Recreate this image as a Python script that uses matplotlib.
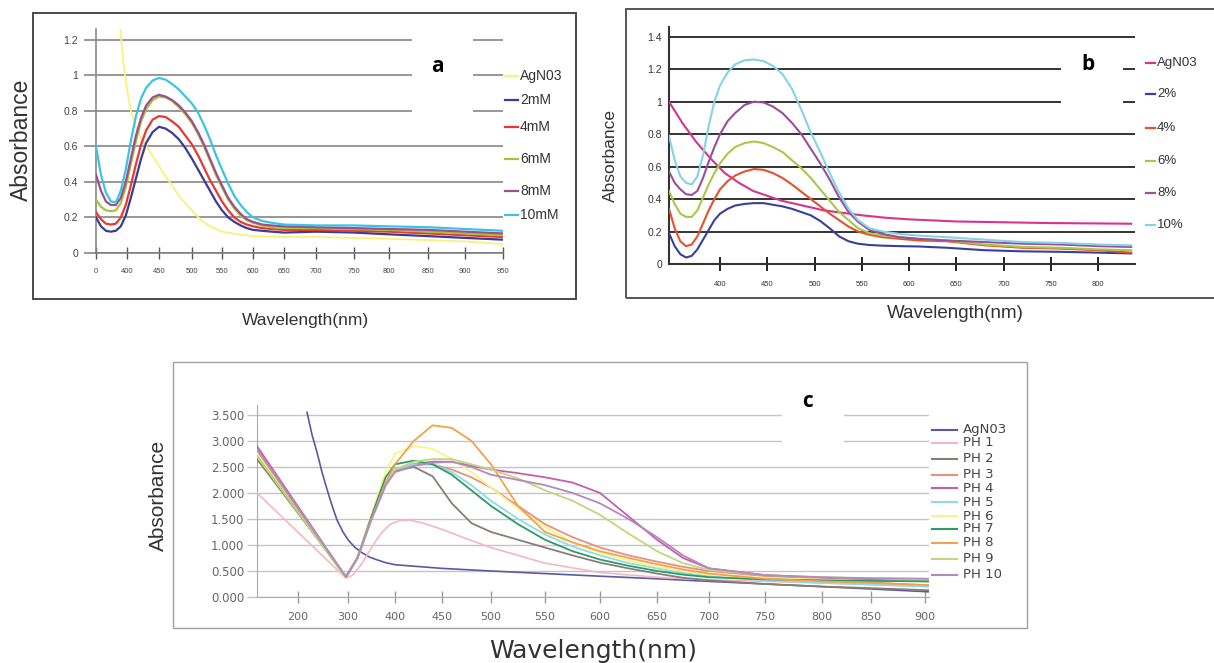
import matplotlib
matplotlib.use("Agg")
import matplotlib.pyplot as plt
import numpy as np
from matplotlib.lines import Line2D
from matplotlib.patches import Rectangle

plt.rcParams['font.family'] = ['Liberation Sans', 'DejaVu Sans']

# ---------------- data: panel a (AgNO3 concentration) ----------------
a_labels = ['AgN03', '2mM', '4mM', '6mM', '8mM', '10mM']
a_colors = ['#f7f27c', '#3b3c96', '#e63a30', '#a8c43c', '#9b4f8e', '#3cc3e2']

a_agno3_wl = [389, 392, 395, 400, 406, 414, 422, 432, 441, 450, 458, 466, 475,
              485, 495, 505, 515, 530, 550, 575, 600, 650, 700, 800, 900, 950]
a_agno3 = [1.27, 1.15, 1.05, 0.92, 0.80, 0.71, 0.65, 0.59, 0.54, 0.49, 0.44,
           0.40, 0.35, 0.30, 0.26, 0.22, 0.185, 0.15, 0.12, 0.105, 0.095, 0.09,
           0.09, 0.08, 0.065, 0.05]

a_wl = [350, 358, 366, 374, 382, 390, 398, 406, 414, 422, 430, 440, 450, 460,
        470, 480, 490, 500, 510, 520, 530, 540, 550, 560, 570, 580, 590, 600,
        615, 630, 650, 700, 750, 800, 850, 900, 950]
a_2mm = [0.20, 0.15, 0.125, 0.12, 0.125, 0.15, 0.21, 0.31, 0.42, 0.53, 0.62,
         0.68, 0.71, 0.70, 0.675, 0.64, 0.59, 0.53, 0.47, 0.41, 0.35, 0.29,
         0.24, 0.20, 0.175, 0.155, 0.14, 0.13, 0.125, 0.12, 0.115, 0.12, 0.115,
         0.105, 0.095, 0.085, 0.075]
a_4mm = [0.23, 0.19, 0.165, 0.16, 0.165, 0.20, 0.27, 0.38, 0.50, 0.61, 0.69,
         0.75, 0.77, 0.765, 0.74, 0.71, 0.66, 0.61, 0.55, 0.48, 0.41, 0.35,
         0.29, 0.24, 0.20, 0.175, 0.16, 0.15, 0.14, 0.135, 0.13, 0.13, 0.125,
         0.12, 0.11, 0.10, 0.09]
a_6mm = [0.30, 0.26, 0.24, 0.235, 0.24, 0.28, 0.37, 0.50, 0.63, 0.74, 0.81,
         0.86, 0.88, 0.875, 0.855, 0.82, 0.78, 0.73, 0.67, 0.60, 0.52, 0.44,
         0.37, 0.30, 0.25, 0.21, 0.185, 0.17, 0.155, 0.145, 0.14, 0.14, 0.135,
         0.13, 0.12, 0.11, 0.10]
a_8mm = [0.44, 0.35, 0.29, 0.27, 0.27, 0.31, 0.40, 0.53, 0.66, 0.76, 0.83,
         0.875, 0.89, 0.88, 0.86, 0.83, 0.79, 0.74, 0.68, 0.61, 0.53, 0.45,
         0.38, 0.31, 0.26, 0.22, 0.19, 0.175, 0.16, 0.155, 0.15, 0.145, 0.14,
         0.135, 0.13, 0.12, 0.11]
a_10mm = [0.60, 0.44, 0.34, 0.29, 0.285, 0.35, 0.47, 0.63, 0.77, 0.87, 0.93,
          0.97, 0.985, 0.975, 0.95, 0.92, 0.88, 0.84, 0.79, 0.72, 0.64, 0.55,
          0.47, 0.39, 0.32, 0.27, 0.23, 0.20, 0.18, 0.17, 0.16, 0.155, 0.155,
          0.15, 0.145, 0.135, 0.125]

a_xticks = [350, 400, 450, 500, 550, 600, 650, 700, 750, 800, 850, 900, 950]
a_xticklabels = ['0'] + [str(v) for v in a_xticks[1:]]

# ---------------- data: panel b (extract percentage) ----------------
b_labels = ['AgN03', '2%', '4%', '6%', '8%', '10%']
b_colors = ['#d6338f', '#3a3f98', '#e5502f', '#a9c84a', '#9b4e9a', '#84d3e8']

b_agno3_wl = [346, 360, 375, 390, 405, 420, 435, 450, 465, 480, 495, 510, 530,
              550, 575, 600, 650, 700, 750, 800, 835]
b_agno3 = [1.0, 0.87, 0.75, 0.65, 0.56, 0.50, 0.45, 0.42, 0.39, 0.37, 0.35,
           0.33, 0.315, 0.30, 0.285, 0.275, 0.262, 0.257, 0.252, 0.25, 0.248]

b_wl = [346, 352, 358, 364, 370, 376, 382, 388, 394, 400, 408, 416, 426, 436,
        446, 456, 466, 476, 486, 496, 506, 516, 526, 536, 546, 558, 572, 590,
        610, 640, 680, 720, 760, 800, 835]
b_2 = [0.19, 0.11, 0.06, 0.04, 0.05, 0.09, 0.15, 0.21, 0.27, 0.31, 0.34, 0.36,
       0.37, 0.375, 0.375, 0.365, 0.355, 0.34, 0.32, 0.30, 0.265, 0.22, 0.17,
       0.14, 0.125, 0.117, 0.113, 0.11, 0.108, 0.10, 0.085, 0.078, 0.075, 0.07,
       0.065]
b_4 = [0.34, 0.22, 0.14, 0.11, 0.12, 0.17, 0.25, 0.33, 0.40, 0.46, 0.51, 0.545,
       0.57, 0.585, 0.58, 0.56, 0.53, 0.49, 0.445, 0.40, 0.355, 0.31, 0.27,
       0.23, 0.20, 0.18, 0.165, 0.155, 0.145, 0.14, 0.115, 0.10, 0.095, 0.085,
       0.07]
b_6 = [0.45, 0.37, 0.31, 0.29, 0.29, 0.33, 0.41, 0.49, 0.56, 0.62, 0.68, 0.72,
       0.745, 0.755, 0.745, 0.72, 0.69, 0.64, 0.59, 0.53, 0.46, 0.39, 0.32,
       0.27, 0.22, 0.19, 0.175, 0.165, 0.155, 0.145, 0.12, 0.105, 0.10, 0.09,
       0.085]
b_8 = [0.57, 0.50, 0.46, 0.43, 0.425, 0.45, 0.53, 0.63, 0.72, 0.80, 0.88, 0.93,
       0.98, 1.0, 0.995, 0.97, 0.93, 0.87, 0.80, 0.71, 0.62, 0.52, 0.41, 0.32,
       0.26, 0.21, 0.185, 0.165, 0.155, 0.145, 0.135, 0.125, 0.12, 0.11, 0.105]
b_10 = [0.79, 0.64, 0.54, 0.50, 0.49, 0.54, 0.67, 0.85, 1.00, 1.10, 1.18, 1.23,
        1.255, 1.26, 1.25, 1.22, 1.17, 1.08, 0.95, 0.81, 0.69, 0.56, 0.44, 0.34,
        0.27, 0.22, 0.20, 0.185, 0.175, 0.165, 0.15, 0.135, 0.13, 0.12, 0.115]

b_xticks = [400, 450, 500, 550, 600, 650, 700, 750, 800]

# ---------------- data: panel c (pH) ----------------
c_labels = ['AgN03', 'PH 1', 'PH 2', 'PH 3', 'PH 4', 'PH 5', 'PH 6', 'PH 7',
            'PH 8', 'PH 9', 'PH 10']
c_colors = ['#5a5aa0', '#f4b8c0', '#8a7c78', '#e89080', '#c45fb0', '#8fdbe6',
            '#f8f48a', '#2e9a68', '#f2a24a', '#c2d67a', '#b488c0']

c_agno3_wl = [218, 228, 238, 248, 258, 268, 278, 290, 300, 315, 330, 345, 360,
              380, 400, 450, 500, 550, 600, 650, 700, 800, 904]
c_agno3 = [3.55, 3.12, 2.78, 2.40, 2.07, 1.76, 1.48, 1.25, 1.10, 0.95, 0.85,
           0.77, 0.72, 0.66, 0.62, 0.55, 0.50, 0.45, 0.40, 0.35, 0.30, 0.20,
           0.10]

c_ph1_wl = [120, 296, 310, 330, 350, 370, 390, 405, 415, 430, 450, 475, 500,
            550, 600, 650, 700, 800, 904]
c_ph1 = [2.0, 0.36, 0.42, 0.65, 0.95, 1.22, 1.40, 1.47, 1.48, 1.42, 1.30, 1.12,
         0.95, 0.65, 0.47, 0.38, 0.33, 0.27, 0.20]

c_wl = [120, 296, 320, 350, 380, 400, 420, 440, 460, 480, 500, 525, 550, 575,
        600, 625, 650, 675, 700, 750, 800, 850, 904]
c_ph2 = [2.65, 0.40, 0.75, 1.50, 2.15, 2.42, 2.50, 2.32, 1.80, 1.42, 1.25, 1.10,
         0.95, 0.80, 0.66, 0.55, 0.45, 0.37, 0.32, 0.25, 0.20, 0.17, 0.13]
c_ph3 = [2.88, 0.38, 0.75, 1.50, 2.20, 2.45, 2.55, 2.55, 2.45, 2.30, 2.10, 1.75,
         1.40, 1.15, 0.95, 0.80, 0.68, 0.58, 0.50, 0.40, 0.33, 0.28, 0.22]
c_ph4 = [2.90, 0.38, 0.75, 1.50, 2.15, 2.45, 2.55, 2.60, 2.60, 2.52, 2.45, 2.38,
         2.30, 2.20, 2.00, 1.55, 1.10, 0.75, 0.55, 0.42, 0.37, 0.33, 0.30]
c_ph5 = [2.80, 0.40, 0.75, 1.50, 2.20, 2.45, 2.55, 2.55, 2.40, 2.15, 1.85, 1.50,
         1.20, 0.97, 0.80, 0.65, 0.55, 0.46, 0.40, 0.32, 0.27, 0.24, 0.20]
c_ph6 = [2.75, 0.35, 0.75, 1.60, 2.40, 2.75, 2.90, 2.85, 2.65, 2.40, 2.10, 1.70,
         1.35, 1.05, 0.85, 0.70, 0.58, 0.50, 0.43, 0.37, 0.33, 0.31, 0.30]
c_ph7 = [2.70, 0.38, 0.75, 1.55, 2.30, 2.55, 2.62, 2.55, 2.35, 2.05, 1.75, 1.40,
         1.10, 0.88, 0.72, 0.60, 0.50, 0.43, 0.38, 0.34, 0.32, 0.31, 0.30]
c_ph8 = [2.82, 0.38, 0.75, 1.50, 2.20, 2.55, 3.00, 3.30, 3.25, 3.00, 2.55, 1.75,
         1.25, 1.05, 0.88, 0.75, 0.63, 0.53, 0.45, 0.35, 0.30, 0.27, 0.23]
c_ph9 = [2.70, 0.38, 0.75, 1.50, 2.15, 2.45, 2.60, 2.65, 2.65, 2.55, 2.45, 2.28,
         2.05, 1.85, 1.58, 1.22, 0.88, 0.65, 0.52, 0.42, 0.38, 0.36, 0.35]
c_ph10 = [2.85, 0.38, 0.75, 1.50, 2.15, 2.40, 2.52, 2.58, 2.60, 2.50, 2.35, 2.25,
          2.15, 2.00, 1.80, 1.50, 1.15, 0.80, 0.55, 0.42, 0.38, 0.36, 0.35]

c_xticks = [200, 300, 400, 450, 500, 550, 600, 650, 700, 750, 800, 850, 900]
c_yticks = [0, 0.5, 1.0, 1.5, 2.0, 2.5, 3.0, 3.5]

# ---------------- layout (pixels of the 1214x663 canvas) ----------------
W, H = 1214, 663
# non-uniform wavelength axes of panels a and c: wavelength -> pixel column
a_scale_wl = a_xticks
a_scale_px = [96, 127, 159, 192, 222, 253, 284, 316, 354, 389, 428, 465, 503]
c_scale_wl = [120] + c_xticks + [904]
c_scale_px = [257, 298, 348, 395, 442, 491, 545, 600, 657, 709, 765, 822, 871,
              925, 929]
a_leg_y = [76, 100, 127, 159, 191, 215]
b_leg_y = [63, 94, 128, 161, 193, 225]
c_leg_y = [430, 443, 459, 475, 488, 502, 516, 529, 543, 559, 575]
WIDE = ['DejaVu Sans']


def fr(l, t, r, b):
    return [l / W, 1 - b / H, (r - l) / W, (b - t) / H]


def fx(px):
    return px / W


def fy(py):
    return 1 - py / H


def piecewise(wl, px):
    return (lambda x: np.interp(x, wl, px), lambda p: np.interp(p, px, wl))


def box(l, t, r, b, **kw):
    fig.add_artist(Rectangle((fx(l), fy(b)), (r - l) / W, (b - t) / H,
                             transform=fig.transFigure, **kw))


fig = plt.figure(figsize=(W / 100, H / 100), dpi=100)

# panel frames
box(33, 13, 576, 299, fill=False, ec='#4a4a4a', lw=1.4)
box(626, 9, 1220, 298, fill=False, ec='#555555', lw=1.4)
box(173, 362, 1027, 628, fill=False, ec='#a0a0a0', lw=1.0)

# ================= panel a =================
ax = fig.add_axes(fr(96, 29, 503, 253))
ax.set_xscale('function', functions=piecewise(a_scale_wl, a_scale_px))
ax.set_xlim(350, 950)
ax.set_ylim(0, 1.26)
ax.plot(a_agno3_wl, a_agno3, color=a_colors[0], lw=1.3, zorder=3)
for vals, col in zip([a_2mm, a_4mm, a_6mm, a_8mm, a_10mm], a_colors[1:]):
    ax.plot(a_wl, vals, color=col, lw=1.6, zorder=3)
ax.set_yticks([0, 0.2, 0.4, 0.6, 0.8, 1.0, 1.2])
ax.set_yticklabels(['0', '0.2', '0.4', '0.6', '0.8', '1', '1.2'])
ax.yaxis.grid(True, color='#7a7a7a', lw=1.1)
ax.set_xticks(a_xticks)
ax.set_xticklabels(a_xticklabels)
ax.tick_params(axis='y', length=9, width=1.1, color='#7a7a7a', labelsize=7.5,
               labelcolor='#444444', pad=4)
ax.tick_params(axis='x', direction='inout', length=9, width=1.0, color='#555555',
               labelsize=5.5, labelcolor='#444444', pad=6)
for s in ['top', 'right']:
    ax.spines[s].set_visible(False)
ax.spines['left'].set_color('#8a8a8a')
ax.spines['bottom'].set_color('#7a7a7a')
ax.spines['left'].set_linewidth(1.2)
ax.spines['bottom'].set_linewidth(1.1)
# blank space behind the panel letter
box(412, 30, 473, 121, fc='white', ec='none', zorder=5)
fig.text(fx(437), fy(67), 'a', fontsize=15, fontweight='bold', family='Open Sans',
         ha='center', va='center', zorder=6)
for lab, col, y in zip(a_labels, a_colors, a_leg_y):
    fig.add_artist(Line2D([fx(505), fx(518)], [fy(y), fy(y)], color=col, lw=1.6,
                          transform=fig.transFigure, zorder=6))
    fig.text(fx(520), fy(y), lab, fontsize=10, color='#333333', va='center', zorder=6)
fig.text(fx(21), fy(140), 'Absorbance', rotation=90, fontsize=16.5, color='#333333',
         ha='center', va='center')
fig.text(fx(305), fy(320), 'Wavelength(nm)', fontsize=12.5, color='#333333',
         ha='center', va='center')

# ================= panel b =================
bx = fig.add_axes(fr(669, 27, 1135, 264))
bx.set_xlim(346, 839)
bx.set_ylim(0, 1.46)
bx.plot(b_agno3_wl, b_agno3, color=b_colors[0], lw=1.5, zorder=3)
for vals, col in zip([b_2, b_4, b_6, b_8, b_10], b_colors[1:]):
    bx.plot(b_wl, vals, color=col, lw=1.5, zorder=3)
bx.set_yticks([0, 0.2, 0.4, 0.6, 0.8, 1.0, 1.2, 1.4])
bx.set_yticklabels(['0', '0.2', '0.4', '0.6', '0.8', '1', '1.2', '1.4'])
bx.yaxis.grid(True, color='#333333', lw=1.4)
bx.set_xticks(b_xticks)
bx.tick_params(axis='y', length=0, labelsize=7.5, labelcolor='#333333', pad=5)
bx.tick_params(axis='x', direction='inout', length=10, width=1.4, color='#222222',
               labelsize=5.5, labelcolor='#333333', pad=7)
for s in ['top', 'right']:
    bx.spines[s].set_visible(False)
bx.spines['left'].set_color('#333333')
bx.spines['bottom'].set_color('#333333')
bx.spines['left'].set_linewidth(1.5)
bx.spines['bottom'].set_linewidth(1.5)
box(1061, 47, 1123, 118, fc='white', ec='none', zorder=5)
fig.text(fx(1088), fy(64), 'b', fontsize=15, fontweight='bold', family='Open Sans',
         ha='center', va='center', zorder=6)
for lab, col, y in zip(b_labels, b_colors, b_leg_y):
    fig.add_artist(Line2D([fx(1146), fx(1155)], [fy(y), fy(y)], color=col, lw=1.6,
                          transform=fig.transFigure, zorder=6))
    fig.text(fx(1157), fy(y), lab, fontsize=9.5, color='#333333', va='center', zorder=6)
fig.text(fx(610), fy(155), 'Absorbance', rotation=90, fontsize=12.5,
         family=['Liberation Sans Narrow', 'Liberation Sans'], color='#333333',
         ha='center', va='center')
fig.text(fx(955), fy(313), 'Wavelength(nm)', fontsize=13.5,
         family=['Liberation Sans Narrow', 'Liberation Sans'], color='#333333',
         ha='center', va='center')

# ================= panel c =================
cx = fig.add_axes(fr(257, 405, 929, 597))
cx.set_xscale('function', functions=piecewise(c_scale_wl, c_scale_px))
cx.set_xlim(120, 904)
cx.set_ylim(0, 3.69)
cx.plot(c_agno3_wl, c_agno3, color=c_colors[0], lw=1.2, zorder=3)
cx.plot(c_ph1_wl, c_ph1, color=c_colors[1], lw=1.2, zorder=3)
for vals, col in zip([c_ph2, c_ph3, c_ph4, c_ph5, c_ph6, c_ph7, c_ph8, c_ph9,
                      c_ph10], c_colors[2:]):
    cx.plot(c_wl, vals, color=col, lw=1.3, zorder=3)
cx.set_yticks(c_yticks)
cx.set_yticklabels(['%.3f' % v for v in c_yticks], family=WIDE)
cx.yaxis.grid(True, color='#c4c4c4', lw=1.0)
cx.set_xticks(c_xticks)
cx.set_xticklabels([str(v) for v in c_xticks], family=WIDE)
cx.tick_params(axis='y', length=7, width=1.0, color='#c4c4c4', labelsize=8.5,
               labelcolor='#666666', pad=2)
cx.tick_params(axis='x', direction='inout', length=9, width=1.0, color='#999999',
               labelsize=8, labelcolor='#666666', pad=6)
for s in ['top', 'right']:
    cx.spines[s].set_visible(False)
cx.spines['left'].set_color('#aaaaaa')
cx.spines['bottom'].set_color('#aaaaaa')
box(782, 400, 844, 450, fc='white', ec='none', zorder=5)
fig.text(fx(808), fy(402), 'c', fontsize=15, fontweight='bold', family='Open Sans',
         ha='center', va='center', zorder=6)
for lab, col, y in zip(c_labels, c_colors, c_leg_y):
    fig.add_artist(Line2D([fx(932), fx(957)], [fy(y), fy(y)], color=col, lw=1.5,
                          transform=fig.transFigure, zorder=6))
    fig.text(fx(963), fy(y), lab, fontsize=9.5, family=WIDE, color='#444444',
             va='center', zorder=6)
fig.text(fx(158), fy(495), 'Absorbance', rotation=90, fontsize=15,
         family=['Liberation Sans Narrow', 'Liberation Sans'], color='#333333',
         ha='center', va='center')
fig.text(fx(593), fy(651), 'Wavelength(nm)', fontsize=18, family=WIDE,
         color='#333333', ha='center', va='center')

fig.savefig('out.png', dpi=100)
